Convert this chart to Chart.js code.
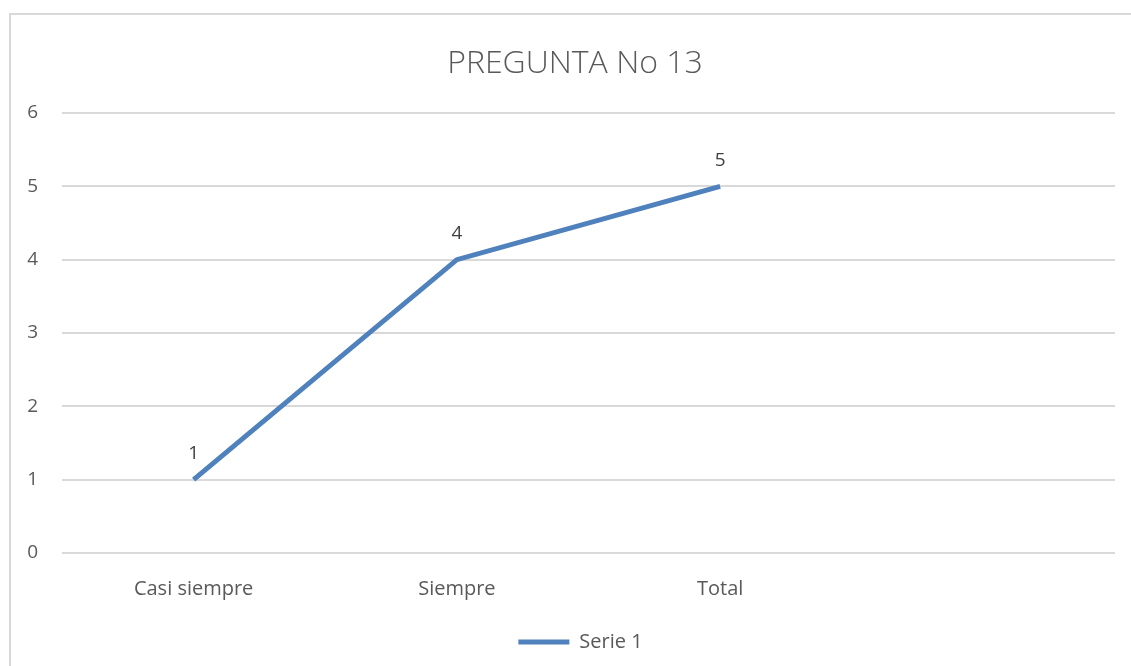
<!DOCTYPE html>
<html><head><meta charset="utf-8">
<script src="https://cdn.jsdelivr.net/npm/chart.js@4.4.1/dist/chart.umd.min.js"></script>
<style>
html,body{margin:0;padding:0;background:#fff;overflow:hidden;}
#frame{position:absolute;left:9px;top:13px;width:1200px;height:700px;border-left:2px solid #d9d9d9;border-top:2px solid #d9d9d9;box-sizing:border-box;}
#wrap{position:absolute;left:0;top:0;width:1131px;height:666px;}
</style></head><body>
<div id="frame"></div>
<div id="wrap"><canvas id="c" width="1131" height="666"></canvas></div>
<script>
const categories = ['Casi siempre', 'Siempre', 'Total', ''];
const serie1 = [1, 4, 5, null];
const seriesName = 'Serie 1';
const titleText = 'PREGUNTA No 13';
const yMin = 0, yMax = 6, yStep = 1;

const FONT = '"Open Sans", Lato, sans-serif';
const LINE = '#4f81bd';

const dataLabels = {
  id: 'dataLabels',
  afterDatasetsDraw(chart) {
    const ctx = chart.ctx;
    const meta = chart.getDatasetMeta(0);
    ctx.save();
    ctx.font = '19px ' + FONT;
    ctx.fillStyle = '#404040';
    ctx.textAlign = 'center';
    ctx.textBaseline = 'middle';
    meta.data.forEach((pt, i) => {
      const v = chart.data.datasets[0].data[i];
      if (v === null || v === undefined) return;
      ctx.fillText(String(v), pt.x, pt.y - 26);
    });
    ctx.restore();
  }
};

// centre title and legend within the framed area, as in the original
const shiftBoxes = {
  id: 'shiftBoxes',
  afterLayout(chart) {
    if (chart.titleBlock) chart.titleBlock.left += 35;
    if (chart.legend) chart.legend.left += 46;
  }
};

new Chart(document.getElementById('c'), {
  type: 'line',
  data: {
    labels: categories,
    datasets: [{
      label: seriesName,
      data: serie1,
      borderColor: LINE,
      backgroundColor: LINE,
      borderWidth: 5,
      pointRadius: 0,
      pointHoverRadius: 0,
      tension: 0,
      fill: false
    }]
  },
  options: {
    responsive: false,
    animation: false,
    layout: { padding: { left: 0, right: 16, top: 0, bottom: 4 } },
    plugins: {
      title: {
        display: true,
        text: titleText,
        color: '#595959',
        font: { family: FONT, size: 32, weight: '300' },
        padding: { top: 44.8, bottom: 29.8 }
      },
      legend: {
        display: true,
        position: 'bottom',
        labels: {
          color: '#595959',
          font: { family: FONT, size: 20 },
          boxWidth: 51,
          boxHeight: 5,
          padding: 10,
          generateLabels(chart) {
            return Chart.defaults.plugins.legend.labels.generateLabels(chart).map(l => Object.assign(l, { lineWidth: 0, strokeStyle: LINE, fillStyle: LINE }));
          }
        }
      },
      tooltip: { enabled: false }
    },
    scales: {
      x: {
        offset: true,
        grid: { display: false, drawTicks: false },
        border: { display: false },
        ticks: { color: '#595959', font: { family: FONT, size: 20 }, padding: 24, maxRotation: 0 },
        afterFit(s) { s.height = 69; }
      },
      y: {
        min: yMin, max: yMax,
        grid: { color: '#d9d9d9', lineWidth: 2, drawTicks: false },
        border: { display: false },
        ticks: { stepSize: yStep, color: '#595959', font: { family: FONT, size: 19 }, padding: 24 },
        afterFit(s) { s.width = 62; }
      }
    }
  },
  plugins: [dataLabels, shiftBoxes]
});
</script>
</body></html>
